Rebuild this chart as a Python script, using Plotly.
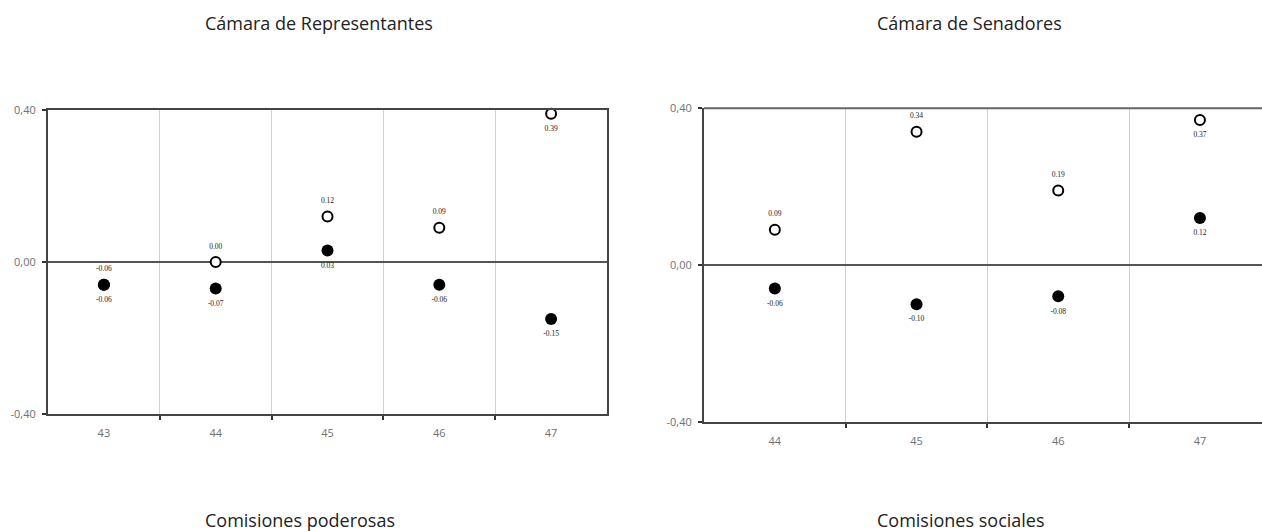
import plotly.graph_objects as go

W, H = 1262, 531

# ---- data ----
rep_cats = ["43", "44", "45", "46", "47"]
rep_open = [-0.06, 0.00, 0.12, 0.09, 0.39]
rep_filled = [-0.06, -0.07, 0.03, -0.06, -0.15]
rep_open_pos = ["top center", "top center", "top center", "top center", "bottom center"]
rep_filled_pos = ["bottom center"] * 5

sen_cats = ["44", "45", "46", "47"]
sen_open = [0.09, 0.34, 0.19, 0.37]
sen_filled = [-0.06, -0.10, -0.08, 0.12]
sen_open_pos = ["top center", "top center", "top center", "bottom center"]
sen_filled_pos = ["bottom center"] * 4

y_tickvals = [-0.40, 0.00, 0.40]
y_ticktext = ["-0,40", "0,00", "0,40"]

titles_top = ["Cámara de Representantes", "Cámara de Senadores"]
titles_bottom = ["Comisiones poderosas", "Comisiones sociales"]

fig = go.Figure()

label_font = dict(family="Liberation Serif", size=7.5, color="#1a1a1a")


def add_series(xa, ya, cats, openv, filledv, open_pos, filled_pos):
    xs = list(range(len(cats)))
    fig.add_trace(go.Scatter(
        x=xs, y=openv, xaxis=xa, yaxis=ya, mode="markers",
        marker=dict(size=10, color="white", line=dict(color="black", width=2)),
        showlegend=False, cliponaxis=False, hoverinfo="skip"))
    fig.add_trace(go.Scatter(
        x=xs, y=filledv, xaxis=xa, yaxis=ya, mode="markers",
        marker=dict(size=12, color="black", line=dict(width=0)),
        showlegend=False, cliponaxis=False, hoverinfo="skip"))
    # value labels (invisible larger marker sets the label offset)
    for vals, pos in ((openv, open_pos), (filledv, filled_pos)):
        fig.add_trace(go.Scatter(
            x=xs, y=vals, xaxis=xa, yaxis=ya, mode="markers+text",
            marker=dict(size=17, color="rgba(0,0,0,0)", line=dict(width=0)),
            text=[f"{v:.2f}" for v in vals], textposition=pos,
            textfont=label_font, showlegend=False, cliponaxis=False,
            hoverinfo="skip"))


add_series("x", "y", rep_cats, rep_open, rep_filled, rep_open_pos, rep_filled_pos)
add_series("x2", "y2", sen_cats, sen_open, sen_filled, sen_open_pos, sen_filled_pos)

tick_font = dict(family="Open Sans", size=11, color="#707070")


def xaxis_cfg(cats, rng, domain, mirror):
    n = len(cats)
    return dict(
        domain=domain, range=rng,
        tickvals=list(range(n)), ticktext=cats, ticks="",
        ticklabelstandoff=8,
        showgrid=False, zeroline=False,
        showline=True, linecolor="#444444", linewidth=2, mirror=mirror,
        tickfont=tick_font,
        minor=dict(tickvals=[i + 0.5 for i in range(n - 1)], ticks="outside",
                   ticklen=4, tickcolor="#333333", tickwidth=2,
                   showgrid=True, gridcolor="#d0d0d0", gridwidth=1),
        fixedrange=True, automargin=False,
    )


def yaxis_cfg(domain, anchor, mirror):
    return dict(
        domain=domain, anchor=anchor, range=[-0.4, 0.4],
        tickvals=y_tickvals, ticktext=y_ticktext,
        ticks="outside", ticklen=4, tickcolor="#333333", tickwidth=2,
        ticklabelstandoff=4,
        showgrid=False, zeroline=True, zerolinecolor="#555555", zerolinewidth=1.5,
        showline=True, linecolor="#444444", linewidth=2, mirror=mirror,
        tickfont=tick_font, fixedrange=True, automargin=False,
    )


fig.update_layout(
    width=W, height=H, autosize=False,
    margin=dict(l=0, r=0, t=0, b=0, pad=0),
    paper_bgcolor="white", plot_bgcolor="white",
    xaxis=dict(**xaxis_cfg(rep_cats, [-0.5, 4.5], [48 / W, 607 / W], True), anchor="y"),
    yaxis=yaxis_cfg([1 - 414 / H, 1 - 110 / H], "x", True),
    xaxis2=dict(**xaxis_cfg(sen_cats, [-0.5, 3.438], [704 / W, 1.0], False), anchor="y2"),
    yaxis2=yaxis_cfg([1 - 421.7 / H, 1 - 108.3 / H], "x2", False),
)

# top border of the right panel (its right edge is cut by the image)
fig.add_shape(type="line", xref="x2 domain", yref="y2 domain",
              x0=0, x1=1, y0=1, y1=1, line=dict(color="#666666", width=2))

title_font = dict(family="Open Sans", size=18, color="#222222")
for i, (tt, tb) in enumerate(zip(titles_top, titles_bottom)):
    xl = [203, 875][i] / W
    fig.add_annotation(x=xl, y=1 - 23 / H, xref="paper", yref="paper",
                       text=tt, showarrow=False, xanchor="left", yanchor="middle",
                       font=title_font)
    fig.add_annotation(x=xl, y=1 - 520 / H, xref="paper", yref="paper",
                       text=tb, showarrow=False, xanchor="left", yanchor="middle",
                       font=title_font)

fig.write_html(
    "out.html",
    config={"displayModeBar": False, "staticPlot": True},
    post_script="document.body.style.margin='0';document.body.style.overflow='hidden';",
)
